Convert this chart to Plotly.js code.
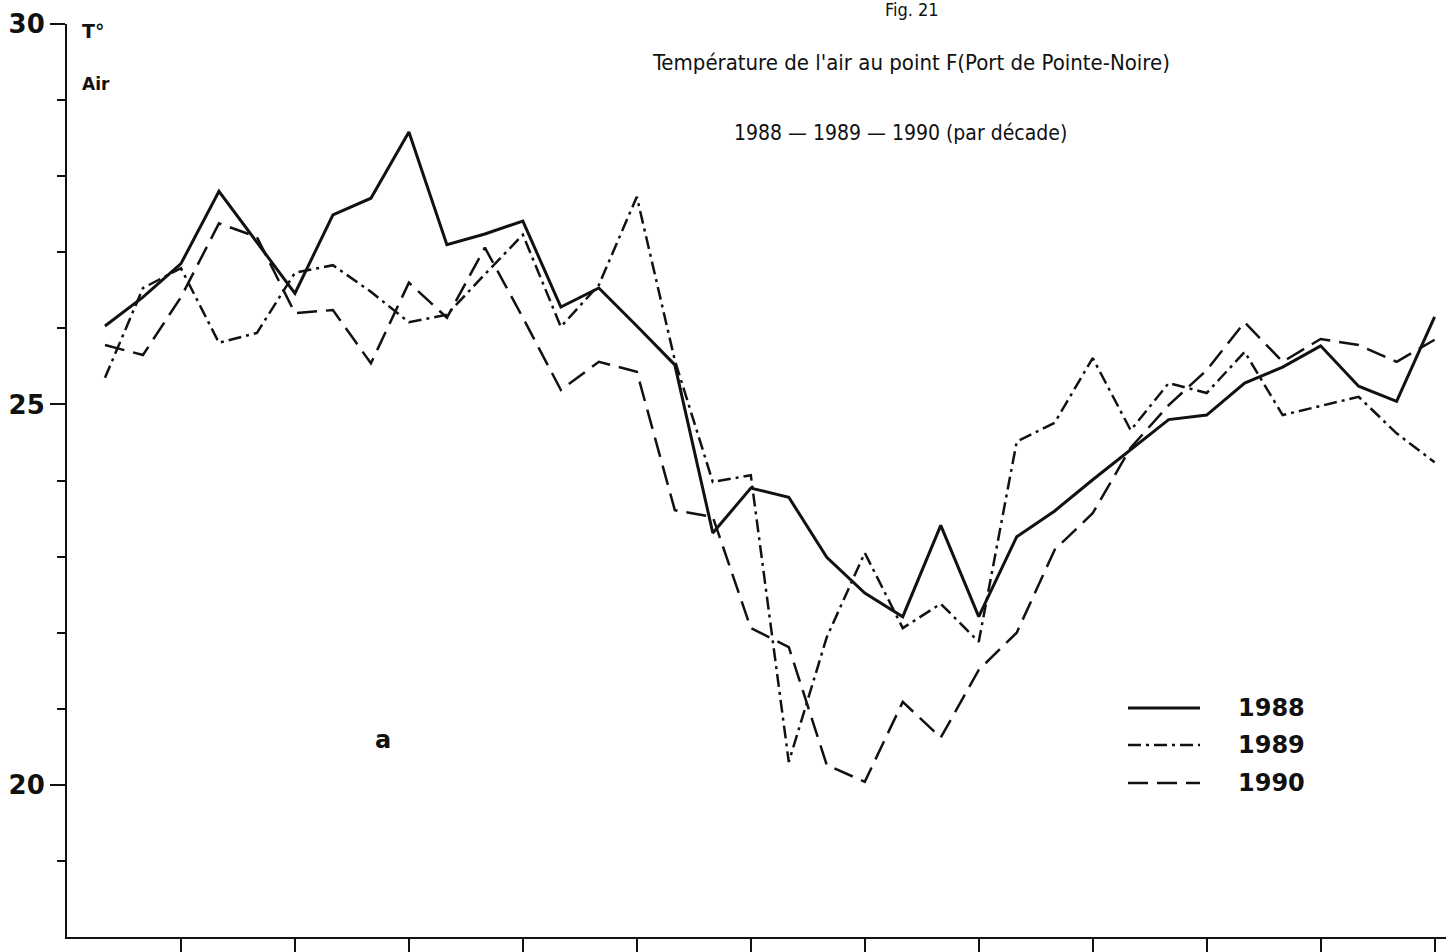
<!DOCTYPE html>
<html>
<head>
<meta charset="utf-8">
<script src="https://cdn.plot.ly/plotly-3.0.1.min.js"></script>
<style>
html,body{margin:0;padding:0;background:#fff;}
#chart{width:1446px;height:952px;}
</style>
</head>
<body>
<div id="chart"></div>
<script>
// Decade index (3 decades per month, Jan..Dec)
const decades = [1,2,3,4,5,6,7,8,9,10,11,12,13,14,15,16,17,18,19,20,21,22,23,24,25,26,27,28,29,30,31,32,33,34,35,36];

// Air temperature (°C) per decade
const t1988 = [26.03,26.41,26.85,27.80,27.13,26.46,27.49,27.71,28.58,27.10,27.24,27.41,
               26.28,26.53,26.03,25.52,23.31,23.90,23.78,22.99,22.52,22.21,23.41,22.21,
               23.26,23.60,24.01,24.41,24.80,24.86,25.28,25.49,25.77,25.24,25.04,26.15];
const t1989 = [25.35,26.53,26.79,25.81,25.94,26.73,26.83,26.48,26.08,26.18,26.71,27.23,
               26.02,26.57,27.73,25.58,23.98,24.07,20.30,21.94,23.05,22.06,22.38,21.88,
               24.51,24.76,25.61,24.66,25.28,25.15,25.69,24.86,24.98,25.10,24.62,24.24];
const t1990 = [25.78,25.65,26.41,27.38,27.20,26.20,26.24,25.54,26.60,26.14,27.06,26.14,
               25.19,25.56,25.43,23.61,23.52,22.06,21.81,20.26,20.04,21.09,20.62,21.51,
               22.00,23.09,23.57,24.43,24.99,25.45,26.08,25.56,25.86,25.78,25.56,25.85];

const seriesNames = ['1988','1989','1990'];
const seriesValues = [t1988, t1989, t1990];
const seriesDash = ['solid','13px,5px,3px,5px','20px,9px'];
const seriesWidth = [3, 2.5, 2.5];

const yTickVals = [20,25,30];
const yTickText = ['20','25','30'];
const yMinorVals = [19,21,22,23,24,26,27,28,29];
const monthTicks = [3,6,9,12,15,18,21,24,27,30,33,36];

const titleLine1 = "Température de l'air au point F(Port de Pointe-Noire)";
const titleLine2 = "1988 — 1989 — 1990 (par décade)";
const figLabel = "Fig. 21";

// layout geometry helpers (pixels -> paper)
const L = 67, T = 24, W = 1379, H = 913;
const px = p => (p - L) / W;
const py = p => 1 - (p - T) / H;

const ink = '#111';
const font = 'DejaVu Sans, Liberation Sans, sans-serif';
const condFont = 'DejaVu Sans Condensed, DejaVu Sans, sans-serif';

const traces = seriesNames.map((n, k) => ({
  type: 'scatter', mode: 'lines', name: n,
  x: decades, y: seriesValues[k],
  line: {color: ink, width: seriesWidth[k], dash: seriesDash[k]},
  hoverinfo: 'x+y+name'
}));

const annotations = [
  {text: figLabel, x: px(912), y: py(10), xref:'paper', yref:'paper', showarrow:false,
   xanchor:'center', yanchor:'middle', font:{family:condFont, size:18, color:ink}},
  {text: titleLine1, x: px(911), y: py(63), xref:'paper', yref:'paper', showarrow:false,
   xanchor:'center', yanchor:'middle', font:{family:condFont, size:22, color:ink}},
  {text: titleLine2, x: px(900), y: py(133), xref:'paper', yref:'paper', showarrow:false,
   xanchor:'center', yanchor:'middle', font:{family:condFont, size:21, color:ink}},
  {text: 'T°', x: px(80), y: py(31), xref:'paper', yref:'paper', showarrow:false,
   xanchor:'left', yanchor:'middle', font:{family:font, size:19, color:ink, weight:'bold'}},
  {text: 'Air', x: px(80), y: py(84), xref:'paper', yref:'paper', showarrow:false,
   xanchor:'left', yanchor:'middle', font:{family:font, size:17, color:ink, weight:'bold'}},
  {text: 'a', x: px(383), y: py(740), xref:'paper', yref:'paper', showarrow:false,
   xanchor:'center', yanchor:'middle', font:{family:font, size:24, color:ink, weight:'bold'}}
];

// custom legend (line sample + label)
const legendY = [708, 745, 783];
const shapes = [];
seriesNames.forEach((n, k) => {
  shapes.push({type:'line', xref:'paper', yref:'paper',
    x0: px(1128), x1: px(1200), y0: py(legendY[k]), y1: py(legendY[k]),
    line:{color:ink, width:seriesWidth[k], dash:seriesDash[k]}});
  annotations.push({text: n, x: px(1236), y: py(legendY[k]), xref:'paper', yref:'paper',
    showarrow:false, xanchor:'left', yanchor:'middle',
    font:{family:font, size:24, color:ink, weight:'bold'}});
});

const layout = {
  width: 1446, height: 952,
  margin: {l: L, r: 1446 - L - W, t: T, b: 952 - T - H},
  paper_bgcolor: '#fff', plot_bgcolor: '#fff',
  showlegend: false,
  xaxis: {
    range: [0, 36.3], showline: true, linecolor: ink, linewidth: 2,
    ticks: 'outside', tickvals: monthTicks, ticklen: 18, tickwidth: 2, tickcolor: ink,
    showticklabels: false, showgrid: false, zeroline: false
  },
  yaxis: {
    range: [18, 30], showline: true, linecolor: ink, linewidth: 2,
    ticks: 'outside', tickvals: yTickVals, ticktext: yTickText,
    ticklen: 15, tickwidth: 2, tickcolor: ink,
    tickfont: {family: font, size: 26, color: ink, weight: 'bold'},
    minor: {tickvals: yMinorVals, ticks: 'outside', ticklen: 8, tickwidth: 2, tickcolor: ink, showgrid: false},
    showgrid: false, zeroline: false
  },
  annotations: annotations,
  shapes: shapes
};

Plotly.newPlot('chart', traces, layout, {displayModeBar: false, responsive: false});
</script>
</body>
</html>
